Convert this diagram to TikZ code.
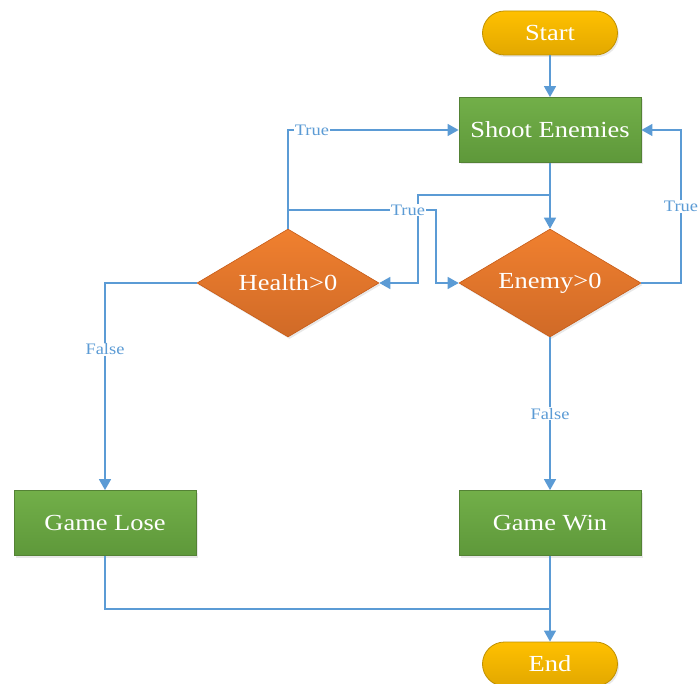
\documentclass[tikz,border=0pt]{standalone}
\usepackage{fontspec}
\setmainfont[FakeStretch=1.15]{Liberation Serif}
\usetikzlibrary{arrows.meta,shapes.geometric,shadows}

\definecolor{lineblue}{HTML}{5B9BD5}
\definecolor{greentop}{HTML}{72AF49}
\definecolor{greenbot}{HTML}{5E983A}
\definecolor{greenedge}{HTML}{548235}
\definecolor{orangetop}{HTML}{F0802F}
\definecolor{orangebot}{HTML}{D06A27}
\definecolor{orangeedge}{HTML}{C65B17}
\definecolor{yellowtop}{HTML}{FFC000}
\definecolor{yellowbot}{HTML}{E2A800}
\definecolor{yellowedge}{HTML}{BF9000}

\tikzset{
  softshadow/.style={drop shadow={opacity=0.18, shadow xshift=1.5pt, shadow yshift=-2pt}},
  nodetext/.style={text=white, font=\fontsize{23}{25}\selectfont, inner sep=0pt},
  terminal/.style={nodetext, rectangle, rounded corners=22pt, minimum width=135pt,
    minimum height=44pt, draw=yellowedge, line width=0.8pt,
    top color=yellowtop, bottom color=yellowbot, softshadow},
  process/.style={nodetext, rectangle, minimum width=182pt, minimum height=65pt,
    draw=greenedge, line width=0.8pt, top color=greentop, bottom color=greenbot, softshadow},
  decision/.style={nodetext, diamond, aspect=1.685, minimum width=182pt, minimum height=108pt,
    draw=orangeedge, line width=0.6pt, top color=orangetop, bottom color=orangebot, softshadow},
  link/.style={draw=lineblue, line width=1.4pt},
  flow/.style={link, -{Triangle[length=11pt,width=12pt]}},
  lbl/.style={fill=white, text=lineblue, inner sep=1pt, font=\fontsize{16}{17}\selectfont}
}

\begin{document}
\begin{tikzpicture}[x=1pt, y=-1pt]
  \useasboundingbox (0,0) rectangle (698,684);

  % nodes
  \node[terminal] (start) at (550,33) {Start};
  \node[process]  (shoot) at (550,130) {Shoot Enemies};
  \node[decision] (health) at (288,283) {Health>0};
  \node[decision] (enemy) at (550,283) {Enemy>0};
  \node[process]  (lose) at (105,523) {Game Lose};
  \node[process]  (win) at (550,523) {Game Win};
  \node[terminal] (end) at (550,664) {End};

  % routing points
  \coordinate (back) at (418,195);
  \coordinate (ahead) at (436,210);
  \coordinate (loop) at (681,283);
  \coordinate (merge) at (550,609);

  % connectors
  \draw[flow] (start) -- (shoot);
  \draw[flow] (shoot.south) -- (enemy.north);
  \draw[flow] (shoot.south) |- (back) |- (health.east);
  \draw[flow] (health.north) |- node[lbl, pos=0.57] {True} (shoot.west);
  \draw[flow] (health.north) |- node[lbl, pos=0.905] {True} (ahead) |- (enemy.west);
  \draw[flow] (enemy.east) -- (loop) |- node[lbl, pos=0.25] {True} (shoot.east);
  \draw[flow] (enemy.south) -- node[lbl] {False} (win.north);
  \draw[flow] (health.west) -| node[lbl, pos=0.66] {False} (lose.north);
  \draw[link] (lose.south) |- (merge);
  \draw[flow] (win.south) -- (end.north);
\end{tikzpicture}
\end{document}
